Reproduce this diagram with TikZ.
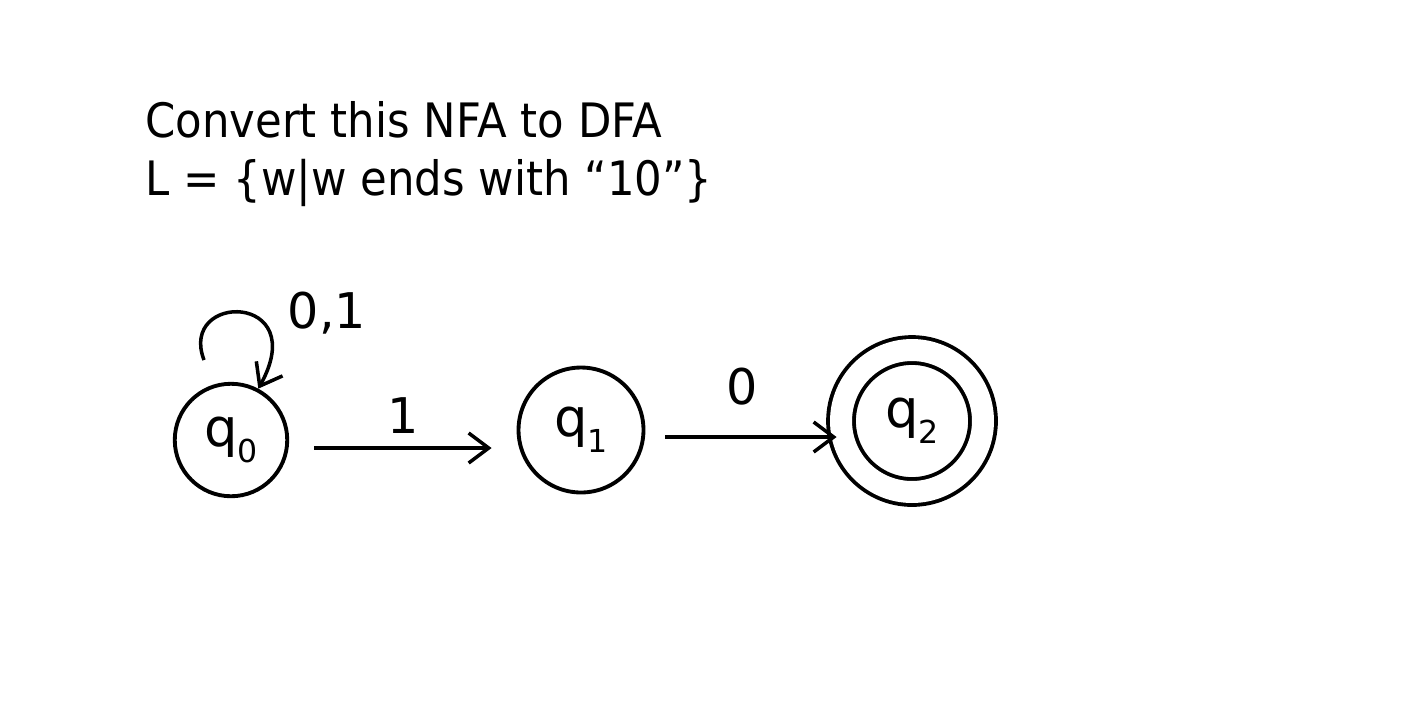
\documentclass[tikz,border=0pt]{standalone}
\usepackage{fontspec}
\setmainfont{DejaVu Sans}
\newfontfamily\headfont[FakeStretch=0.915]{DejaVu Sans}
\usetikzlibrary{arrows.meta, positioning}
\newcommand{\sub}[1]{\raisebox{-0.55ex}{\fontsize{18}{18}\selectfont #1}}
\tikzset{
    state/.style={
        circle, draw=black, line width=2.2pt, minimum size=2.2cm, inner sep=0pt, font=\fontsize{30}{30}\selectfont
    },
    accepting/.style={
        state, double=white, double distance=0.44cm
    },
    arrow/.style={
        line width=2pt, -{Straight Barb[length=4mm, width=6mm, line width=2pt]}
    },
    lbl/.style={
        font=\fontsize{28}{28}\selectfont
    },
    heading/.style={
        anchor=base west, inner sep=0pt, font=\headfont\fontsize{27}{27}\selectfont
    }
}

\begin{document}
\begin{tikzpicture}[x=0.02cm, y=-0.02cm]
    \useasboundingbox (0,0) rectangle (1408,708);

    % Task text
    \node[heading] (title) at (145,137) {Convert this NFA to DFA};
    \node[heading] (lang) at (145,195) {L = \{w|w ends with “10”\}};

    % States
    \node[state, minimum size=2.25cm] (q0) at (231,440) {q\sub{0}};
    \node[state, minimum size=2.5cm] (q1) at (581,430) {q\sub{1}};
    \node[accepting, minimum size=2.84cm] (q2) at (912,421) {q\sub{2}};

    % Transitions
    \coordinate (loopstart) at (204,360);
    \draw[arrow] (loopstart) .. controls (178,292) and (312,292) .. (q0.62);
    \node[lbl] (loop) at (327,313) {0,1};
    \draw[arrow, shorten <=0.5cm, shorten >=0.5cm] ([yshift=-0.16cm]q0.east) -- node[lbl, above=4pt] (one) {1} ([yshift=-0.16cm]q0.east -| q1.west);
    \draw[arrow, shorten <=0.4cm, shorten >=0.05cm] ([yshift=-0.14cm]q1.east) -- node[lbl, above=14pt] (zero) {0} ([yshift=-0.14cm]q1.east -| q2.west);

\end{tikzpicture}
\end{document}
